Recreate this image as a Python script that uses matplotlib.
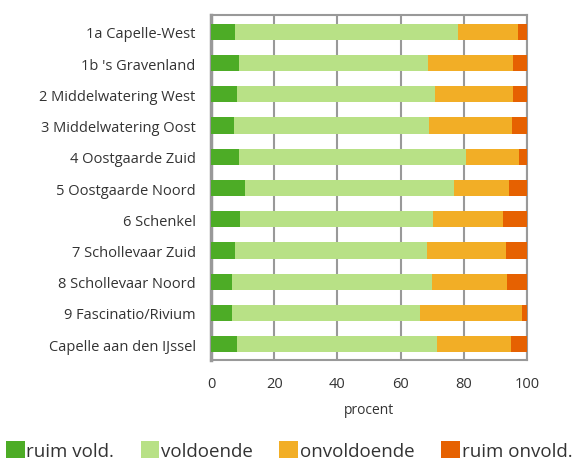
import numpy as np
import matplotlib
matplotlib.use("Agg")
import matplotlib.pyplot as plt

plt.rcParams['font.family'] = ['Open Sans', 'DejaVu Sans']

wijken = ["1a Capelle-West", "1b 's Gravenland", "2 Middelwatering West",
          "3 Middelwatering Oost", "4 Oostgaarde Zuid", "5 Oostgaarde Noord",
          "6 Schenkel", "7 Schollevaar Zuid", "8 Schollevaar Noord",
          "9 Fascinatio/Rivium", "Capelle aan den IJssel"]
ruim_vold = [7.7, 9.0, 8.3, 7.4, 9.0, 10.9, 9.3, 7.7, 6.8, 6.5, 8.3]
voldoende = [70.5, 59.7, 62.6, 61.6, 71.7, 66.0, 61.0, 60.7, 63.1, 59.6, 63.2]
onvoldoende = [19.0, 26.9, 24.7, 26.3, 16.8, 17.5, 22.2, 25.0, 23.8, 32.4, 23.5]
ruim_onvold = [2.8, 4.4, 4.4, 4.7, 2.5, 5.6, 7.5, 6.6, 6.3, 1.5, 5.0]

series = [("ruim vold.", ruim_vold, "#4dac26"),
          ("voldoende", voldoende, "#b8e186"),
          ("onvoldoende", onvoldoende, "#f2ae26"),
          ("ruim onvold.", ruim_onvold, "#e66101")]

fig = plt.figure(figsize=(5.78, 4.64), dpi=100)
ax = fig.add_axes([0.365, 0.2226, 0.547, 0.7434])

y = np.arange(len(wijken))
left = np.zeros(len(wijken))
for naam, vals, kleur in series:
    vals = np.array(vals)
    ax.barh(y, vals, left=left, height=0.52, color=kleur, label=naam, zorder=3)
    left += vals

ax.set_xlim(0, 100)
ax.set_ylim(10.5, -0.55)
ax.set_xticks([0, 20, 40, 60, 80, 100])
ax.set_yticks(y)
ax.set_yticklabels(wijken)
ax.tick_params(axis='both', length=0, labelsize=10.5, colors='#333333')
ax.tick_params(axis='y', pad=11)
ax.tick_params(axis='x', pad=12)
ax.xaxis.grid(True, color='#999999', linewidth=1.5, zorder=0)
for s in ax.spines.values():
    s.set_color('#999999')
    s.set_linewidth(1.5)
ax.spines['left'].set_linewidth(2.5)
ax.set_xlabel("procent", fontsize=10, color='#333333', labelpad=8)

fig.legend(loc='lower center', bbox_to_anchor=(0.5, -0.03), ncol=4, frameon=False,
           fontsize=13.5, handlelength=1.0, handleheight=1.0, handletextpad=0.1,
           columnspacing=1.4, labelcolor='#333333')

fig.savefig("out.png", dpi=100)
